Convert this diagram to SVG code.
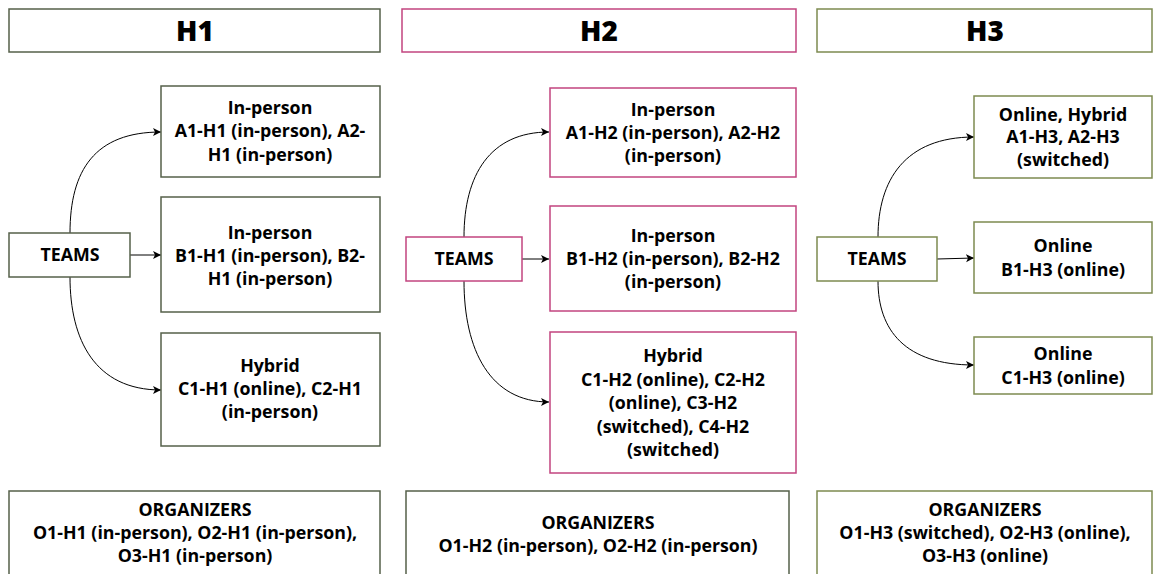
<svg xmlns="http://www.w3.org/2000/svg" width="1153" height="574" viewBox="0 0 1153 574">
<style>
text{font-family:"Open Sans","Liberation Sans",sans-serif;font-weight:700;font-size:17.8px;fill:#000;text-anchor:middle}
.hd{font-size:28px;font-weight:800}
rect{fill:#fff;stroke-width:1.5}
.g1 rect{stroke:#55604a}
.g2 rect{stroke:#c2447f}
.g3 rect{stroke:#7d8a50}
.g2 .org rect{stroke:#55604a}
.c path{fill:none;stroke:#000;stroke-width:1;marker-end:url(#ah)}
</style>
<defs>
<marker id="ah" markerUnits="userSpaceOnUse" markerWidth="9" markerHeight="9" refX="8" refY="4" orient="auto">
<path d="M0,0 L8,4 L0,8 L2,4 z" fill="#000"/>
</marker>
</defs>
<rect width="1153" height="574" fill="#fff" stroke="none"/>

<g class="c" id="connectors">
<path d="M70,233 C70,170 95,132 161,132"/>
<path d="M130,255 L161,255"/>
<path d="M70,277 C70,340 95,390 161,390"/>
<path d="M464,237 C464,175 490,132 549,132"/>
<path d="M522,259 L549,259"/>
<path d="M464,281 C464,350 490,402 549,402"/>
<path d="M878,237 C878,180 905,137 974,137"/>
<path d="M937,259 L974,258"/>
<path d="M878,281 C878,330 905,365 974,365"/>
</g>

<g class="g1">
<g id="h1-header"><rect x="9" y="9" width="371" height="43"/><text class="hd" x="195" y="41">H1</text></g>
<g id="h1-a"><rect x="161" y="86" width="219" height="91"/><text x="270" y="114">In-person</text><text x="270" y="137">A1-H1 (in-person), A2-</text><text x="270" y="161">H1 (in-person)</text></g>
<g id="h1-teams"><rect x="9" y="233" width="121" height="44"/><text x="70" y="261">TEAMS</text></g>
<g id="h1-b"><rect x="161" y="197" width="219" height="115"/><text x="270" y="239">In-person</text><text x="270" y="262">B1-H1 (in-person), B2-</text><text x="270" y="285">H1 (in-person)</text></g>
<g id="h1-c"><rect x="161" y="333" width="219" height="113"/><text x="270" y="372">Hybrid</text><text x="270" y="395">C1-H1 (online), C2-H1</text><text x="270" y="418">(in-person)</text></g>
<g id="h1-org"><rect x="9" y="491" width="371" height="90"/><text x="195" y="516">ORGANIZERS</text><text x="195" y="539">O1-H1 (in-person), O2-H1 (in-person),</text><text x="195" y="562">O3-H1 (in-person)</text></g>
</g>

<g class="g2">
<g id="h2-header"><rect x="402" y="9" width="394" height="43"/><text class="hd" x="599" y="41">H2</text></g>
<g id="h2-a"><rect x="550" y="88" width="246" height="89"/><text x="673" y="116">In-person</text><text x="673" y="139">A1-H2 (in-person), A2-H2</text><text x="673" y="162">(in-person)</text></g>
<g id="h2-teams"><rect x="406" y="237" width="116" height="44"/><text x="464" y="265">TEAMS</text></g>
<g id="h2-b"><rect x="550" y="206" width="246" height="105"/><text x="673" y="242">In-person</text><text x="673" y="265">B1-H2 (in-person), B2-H2</text><text x="673" y="288">(in-person)</text></g>
<g id="h2-c"><rect x="550" y="332" width="246" height="141"/><text x="673" y="362">Hybrid</text><text x="673" y="386">C1-H2 (online), C2-H2</text><text x="673" y="409">(online), C3-H2</text><text x="673" y="433">(switched), C4-H2</text><text x="673" y="456">(switched)</text></g>
<g id="h2-org" class="org"><rect x="406" y="491" width="383" height="90"/><text x="598" y="529">ORGANIZERS</text><text x="598" y="552">O1-H2 (in-person), O2-H2 (in-person)</text></g>
</g>

<g class="g3">
<g id="h3-header"><rect x="817" y="9" width="335" height="43"/><text class="hd" x="985" y="41">H3</text></g>
<g id="h3-a"><rect x="974" y="96" width="178" height="82"/><text x="1063" y="121">Online, Hybrid</text><text x="1063" y="143">A1-H3, A2-H3</text><text x="1063" y="166">(switched)</text></g>
<g id="h3-teams"><rect x="817" y="237" width="120" height="44"/><text x="877" y="265">TEAMS</text></g>
<g id="h3-b"><rect x="974" y="222" width="178" height="71"/><text x="1063" y="252">Online</text><text x="1063" y="276">B1-H3 (online)</text></g>
<g id="h3-c"><rect x="974" y="337" width="178" height="57"/><text x="1063" y="360">Online</text><text x="1063" y="384">C1-H3 (online)</text></g>
<g id="h3-org"><rect x="817" y="491" width="335" height="90"/><text x="985" y="516">ORGANIZERS</text><text x="985" y="539">O1-H3 (switched), O2-H3 (online),</text><text x="985" y="562">O3-H3 (online)</text></g>
</g>
</svg>
